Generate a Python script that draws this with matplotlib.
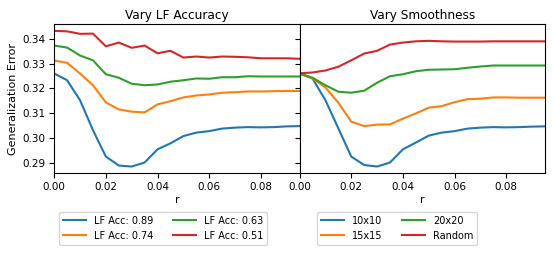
import numpy as np
import matplotlib
matplotlib.use('Agg')
from matplotlib import pyplot as plt

# r values
r = [0.000, 0.005, 0.010, 0.015, 0.020, 0.025, 0.030, 0.035, 0.040, 0.045,
     0.050, 0.055, 0.060, 0.065, 0.070, 0.075, 0.080, 0.085, 0.090, 0.095]

# vary LF accuracy
acc_labels = ['LF Acc: 0.89', 'LF Acc: 0.74', 'LF Acc: 0.63', 'LF Acc: 0.51']
acc_089 = [0.3260, 0.3233, 0.3153, 0.3033, 0.2927, 0.2891, 0.2887, 0.2903, 0.2956, 0.2980,
           0.3009, 0.3023, 0.3029, 0.3039, 0.3043, 0.3045, 0.3044, 0.3045, 0.3048, 0.3049]
acc_074 = [0.3312, 0.3303, 0.3260, 0.3213, 0.3144, 0.3116, 0.3107, 0.3104, 0.3136, 0.3149,
           0.3164, 0.3172, 0.3176, 0.3183, 0.3185, 0.3188, 0.3188, 0.3189, 0.3190, 0.3190]
acc_063 = [0.3372, 0.3364, 0.3332, 0.3313, 0.3257, 0.3243, 0.3219, 0.3213, 0.3216, 0.3227,
           0.3233, 0.3240, 0.3239, 0.3245, 0.3245, 0.3249, 0.3248, 0.3248, 0.3248, 0.3248]
acc_051 = [0.3431, 0.3429, 0.3419, 0.3420, 0.3369, 0.3384, 0.3363, 0.3372, 0.3341, 0.3351,
           0.3324, 0.3328, 0.3324, 0.3328, 0.3327, 0.3325, 0.3321, 0.3321, 0.3321, 0.3319]

# vary smoothness
smooth_labels = ['10x10', '15x15', '20x20', 'Random']
sm_10 = [0.3260, 0.3240, 0.3153, 0.3040, 0.2927, 0.2893, 0.2887, 0.2903, 0.2956, 0.2983,
         0.3011, 0.3023, 0.3029, 0.3039, 0.3043, 0.3045, 0.3044, 0.3045, 0.3047, 0.3048]
sm_15 = [0.3260, 0.3240, 0.3204, 0.3143, 0.3067, 0.3049, 0.3055, 0.3056, 0.3079, 0.3100,
         0.3123, 0.3129, 0.3145, 0.3157, 0.3159, 0.3164, 0.3164, 0.3163, 0.3163, 0.3163]
sm_20 = [0.3260, 0.3243, 0.3213, 0.3187, 0.3183, 0.3191, 0.3223, 0.3249, 0.3257, 0.3269,
         0.3275, 0.3276, 0.3277, 0.3283, 0.3288, 0.3292, 0.3292, 0.3292, 0.3292, 0.3292]
sm_rand = [0.3261, 0.3264, 0.3272, 0.3287, 0.3313, 0.3340, 0.3351, 0.3376, 0.3384, 0.3389,
           0.3391, 0.3389, 0.3388, 0.3388, 0.3388, 0.3389, 0.3389, 0.3389, 0.3389, 0.3389]

fig, (ax1, ax2) = plt.subplots(1, 2, sharey=True, figsize=(5.53, 2.56), dpi=100)
fig.subplots_adjust(left=0.098, right=0.9855, top=0.906, bottom=0.323, wspace=0)

for ys, lab in zip([acc_089, acc_074, acc_063, acc_051], acc_labels):
    ax1.plot(r, ys, label=lab, lw=1.5)
for ys, lab in zip([sm_10, sm_15, sm_20, sm_rand], smooth_labels):
    ax2.plot(r, ys, label=lab, lw=1.5)

for ax, title in [(ax1, 'Vary LF Accuracy'), (ax2, 'Vary Smoothness')]:
    ax.set_title(title, fontsize=8.7, pad=3.5)
    ax.set_xlim(0, 0.095)
    ax.set_xticks([0, 0.02, 0.04, 0.06, 0.08])
    ax.tick_params(labelsize=7.5, length=3.5, pad=3)
    ax.set_xlabel('r', fontsize=8, labelpad=2)

ax1.set_ylabel('Generalization Error', fontsize=8, labelpad=3)
ax1.set_yticks([0.29, 0.30, 0.31, 0.32, 0.33, 0.34])

leg_kw = dict(ncol=2, fontsize=7, loc='upper left', borderaxespad=0,
              handlelength=2.4, bbox_transform=fig.transFigure)
ax1.legend(bbox_to_anchor=(59 / 553, 1 - 212 / 256), **leg_kw)
ax2.legend(bbox_to_anchor=(317 / 553, 1 - 212 / 256), **leg_kw)

plt.savefig('out.png', dpi=100)
